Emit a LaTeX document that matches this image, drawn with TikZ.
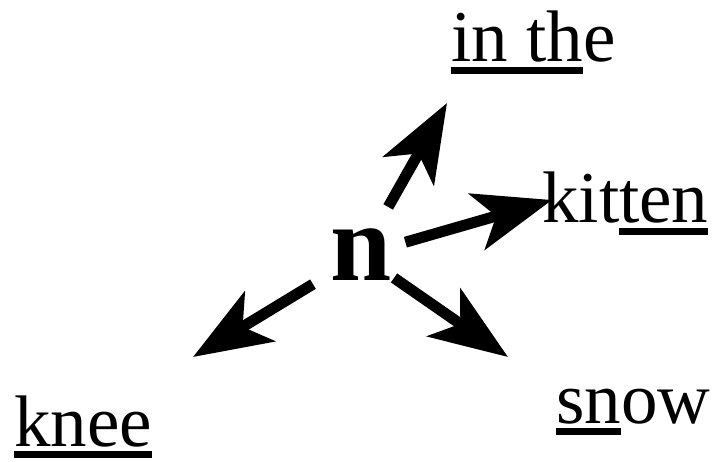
\documentclass[tikz,border=0pt]{standalone}
\usepackage{fontspec}
\setmainfont{Liberation Serif}
\usetikzlibrary{arrows.meta}

% underline part of a word
\newcommand\ulpart[1]{\setbox0\hbox{#1}\rlap{\rule[-12pt]{\wd0}{7pt}}\box0}

\tikzset{
  word/.style={anchor=base west, inner sep=0pt, font=\fontsize{73}{80}\selectfont},
  arr/.style={line width=11pt, -{Stealth[length=78pt, width=58pt, inset=20pt]}},
}

\begin{document}
\begin{tikzpicture}[x=1pt, y=-1pt]
  \useasboundingbox (0,0) rectangle (720,462);

  % centre letter
  \node[circle, inner sep=0pt, minimum size=80pt,
        font=\fontsize{110}{120}\selectfont\bfseries] (n) at (361,255) {n};

  % the four words
  \node[word] (inthe)  at (451,62)  {\ulpart{in th}e};
  \node[word] (kitten) at (542,223) {kit\ulpart{ten}};
  \node[word] (snow)   at (556,423) {\ulpart{sn}ow};
  \node[word] (knee)   at (14,446)  {\ulpart{knee}};

  % arrow tips
  \coordinate (tipinthe)  at (447,103);
  \coordinate (tipkitten) at (552,200);
  \coordinate (tipsnow)   at (508,357);
  \coordinate (tipknee)   at (193,357);

  % arrows out of n
  \draw[arr, shorten <=15pt] (n) -- (tipinthe);
  \draw[arr, shorten <=6pt]  (n) -- (tipkitten);
  \draw[arr]                 (n) -- (tipsnow);
  \draw[arr, shorten <=16pt] (n) -- (tipknee);
\end{tikzpicture}
\end{document}
